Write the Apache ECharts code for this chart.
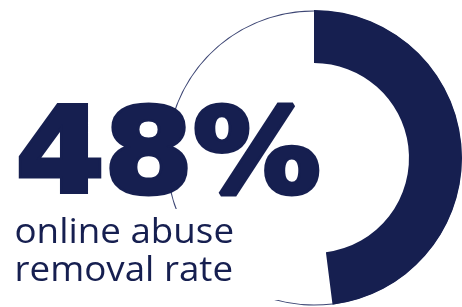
<!DOCTYPE html>
<html><head><meta charset="utf-8">
<script src="https://cdn.jsdelivr.net/npm/echarts@6/dist/echarts.min.js"></script>
<style>html,body{margin:0;padding:0;background:#fff}#c{width:462px;height:307px}</style>
</head><body><div id="c"></div>
<script>
const categories = ['Removed', 'Not removed'];
const values = [48, 52];
const headline = '48%';
const subtitle = ['online abuse', 'removal rate'];

const NAVY = '#161f50';
const chart = echarts.init(document.getElementById('c'), null, {renderer: 'canvas'});
chart.setOption({
  backgroundColor: '#ffffff',
  animation: false,
  series: [
    {
      type: 'pie', center: [314, 158], radius: [146.6, 147.6], startAngle: 90, clockwise: true,
      silent: true, label: {show: false}, labelLine: {show: false},
      itemStyle: {color: '#3d4674', borderWidth: 0},
      data: categories.map((c, i) => ({name: c + ' outline', value: values[i]}))
    },
    {
      type: 'pie', center: [314, 158], radius: [95, 148], startAngle: 90, clockwise: true,
      silent: true, label: {show: false}, labelLine: {show: false},
      data: categories.map((c, i) => ({
        name: c, value: values[i],
        itemStyle: {color: i === 0 ? NAVY : 'rgba(0,0,0,0)', borderWidth: 0}
      }))
    }
  ],
  graphic: [
    {
      type: 'text', left: 4, top: 209, z: 10, scaleX: 1.05,
      style: {
        text: subtitle.join('\n'), fill: NAVY,
        font: '35px "Open Sans"', lineHeight: 38,
        backgroundColor: '#ffffff', padding: [5, 42, 10, 10]
      }
    },
    {
      type: 'text', left: 13, top: 100, z: 11, scaleX: 1.08,
      style: {
        text: headline, fill: NAVY, stroke: NAVY, lineWidth: 5, lineJoin: 'round',
        font: 'bold 118px "DejaVu Sans"'
      }
    }
  ]
});
</script></body></html>
